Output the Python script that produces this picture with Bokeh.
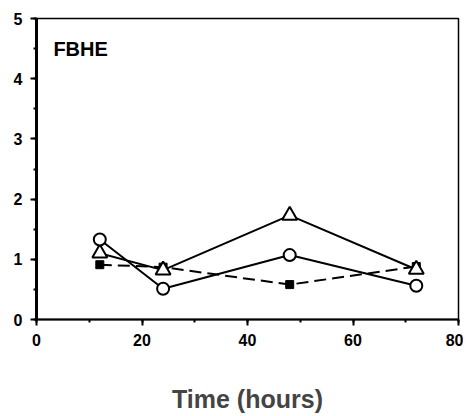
from bokeh.plotting import figure
from bokeh.models import Range1d, Label, SingleIntervalTicker
from bokeh.embed import file_html
from bokeh.resources import INLINE

# data
time_h = [12, 24, 48, 72]
circles = [1.33, 0.51, 1.07, 0.56]
triangles = [1.10, 0.82, 1.73, 0.83]
squares = [0.91, 0.87, 0.58, 0.88]
panel_label = "FBHE"
x_label = "Time (hours)"

FONT = "Liberation Sans"

p = figure(width=463, height=416, output_backend="svg", toolbar_location=None,
           x_range=Range1d(0, 80), y_range=Range1d(0, 5),
           min_border_left=36, min_border_top=18, min_border_right=5, min_border_bottom=97)
p.xgrid.visible = False
p.ygrid.visible = False
p.outline_line_color = "black"
p.outline_line_width = 1.5
p.background_fill_color = "white"
p.border_fill_color = "white"

for ax in (p.xaxis[0], p.yaxis[0]):
    ax.major_tick_in = 0
    ax.major_tick_out = 6
    ax.minor_tick_in = 0
    ax.minor_tick_out = 3
    ax.major_tick_line_width = 2
    ax.minor_tick_line_width = 2
    ax.major_label_text_font = FONT
    ax.major_label_text_font_style = "bold"
    ax.major_label_text_font_size = "16px"
    ax.major_label_text_color = "black"
    ax.axis_line_color = "black"

p.xaxis[0].ticker = SingleIntervalTicker(interval=20, num_minor_ticks=2)
p.yaxis[0].ticker = SingleIntervalTicker(interval=1, num_minor_ticks=2)
p.xaxis[0].axis_line_width = 2
p.yaxis[0].axis_line_width = 3
p.xaxis[0].major_label_standoff = 8
p.yaxis[0].major_label_standoff = 8

p.xaxis[0].axis_label = x_label
p.xaxis[0].axis_label_text_font = FONT
p.xaxis[0].axis_label_text_font_style = "bold"
p.xaxis[0].axis_label_text_font_size = "25px"
p.xaxis[0].axis_label_standoff = 36

# dashed square series
p.line(time_h, squares, line_color="black", line_width=2, line_dash="12 6")
p.scatter(time_h, squares, marker="square", size=8, fill_color="black", line_color="black")

# triangle series
p.line(time_h, triangles, line_color="black", line_width=2)
p.scatter(time_h, triangles, marker="triangle", size=15, fill_color="white",
          line_color="black", line_width=2)

# circle series
p.line(time_h, circles, line_color="black", line_width=2)
p.scatter(time_h, circles, marker="circle", size=12, fill_color="white",
          line_color="black", line_width=2)

p.add_layout(Label(x=3.2, y=4.5, text=panel_label, text_font=FONT, text_font_style="bold",
                   text_font_size="20px", text_baseline="middle", text_color="black"))

open("out.html", "w").write(file_html(p, INLINE))
